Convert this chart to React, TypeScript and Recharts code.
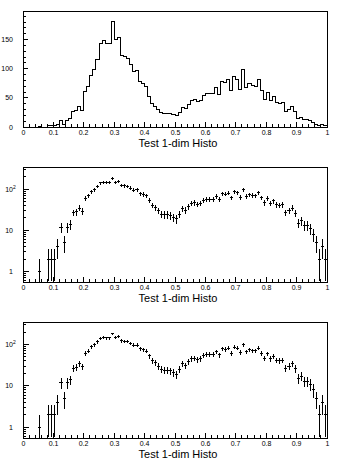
import { ComposedChart, ScatterChart, Line, Scatter, ErrorBar, XAxis, YAxis, ReferenceArea } from 'recharts'

// bin contents, 100 bins from 0 to 1
const counts = [
  0, 0, 0, 0, 0, 1, 0, 0, 2, 2,
  2, 4, 12, 5, 12, 14, 27, 28, 35, 29,
  61, 69, 88, 98, 116, 143, 148, 144, 144, 181,
  150, 154, 122, 121, 118, 107, 96, 97, 78, 75,
  69, 53, 41, 36, 30, 25, 24, 24, 23, 21,
  19, 25, 34, 31, 38, 45, 47, 43, 45, 54,
  58, 58, 57, 67, 56, 78, 76, 81, 62, 87,
  82, 64, 98, 67, 74, 71, 70, 82, 62, 47,
  60, 45, 52, 42, 41, 42, 27, 30, 35, 26,
  15, 17, 13, 13, 11, 8, 5, 2, 4, 2,
]
const binWidth = 0.01

const xMajorTicks = [0, 0.1, 0.2, 0.3, 0.4, 0.5, 0.6, 0.7, 0.8, 0.9, 1]
const xMajorLabels = ['0', '0.1', '0.2', '0.3', '0.4', '0.5', '0.6', '0.7', '0.8', '0.9', '1']
const xTicks = Array.from({ length: 51 }, (_, i) => i / 50)

const linMax = 199
const linTicks = [0, 10, 20, 30, 40, 50, 60, 70, 80, 90, 100, 110, 120, 130, 140, 150, 160, 170, 180, 190]
const linLabelled = [0, 50, 100, 150]

const logMin = 0.55
const logMax = 350
const logTicks = [0.6, 0.7, 0.8, 0.9, 1, 2, 3, 4, 5, 6, 7, 8, 9, 10, 20, 30, 40, 50, 60, 70, 80, 90, 100, 200, 300]
const logMajor = [1, 10, 100]

const title = 'Test 1-dim Histo'

const histData = [
  ...counts.map((c, i) => ({ x: i * binWidth, count: c })),
  { x: 1, count: counts[counts.length - 1] },
]

const pointData = counts
  .map((c, i) => ({
    x: (i + 0.5) * binWidth,
    y: c,
    ex: binWidth / 2,
    ey: [Math.min(Math.sqrt(c), c - logMin), Math.sqrt(c)],
  }))
  .filter((d) => d.y > 0)

const font = { fontFamily: '"Liberation Sans", Arial, sans-serif', fill: '#000' }
const snap = (v: number) => Math.round(v - 0.5) + 0.5

function xTick(props: any) {
  const { x, y, payload } = props
  const i = xMajorTicks.findIndex((t) => Math.abs(t - payload.value) < 1e-6)
  const px = snap(x)
  return (
    <g>
      <line x1={px} x2={px} y1={y} y2={y - (i >= 0 ? 5 : 3)} stroke='#000' />
      {i >= 0 && (
        <text x={px} y={y + 8} textAnchor='middle' fontSize={7} {...font}>
          {xMajorLabels[i]}
        </text>
      )}
    </g>
  )
}

function linTick(props: any) {
  const { x, y, payload } = props
  const v = payload.value
  const major = v % 50 === 0
  const py = snap(y)
  return (
    <g>
      <line x1={x} x2={x + (major ? 5 : 3)} y1={py} y2={py} stroke='#000' />
      {linLabelled.includes(v) && (
        <text x={x - 10} y={py + 2.5} textAnchor='end' fontSize={7} {...font}>
          {String(v)}
        </text>
      )}
    </g>
  )
}

function logTick(props: any) {
  const { x, y, payload } = props
  const v = payload.value
  const major = logMajor.includes(v)
  const py = snap(y)
  return (
    <g>
      <line x1={x} x2={x + (major ? 6 : 3)} y1={py} y2={py} stroke='#000' />
      {v === 100 ? (
        <text x={x - 17.8} y={py + 2.5} fontSize={7} {...font}>
          10
          <tspan dy={-3} fontSize={5}>
            2
          </tspan>
        </text>
      ) : major ? (
        <text x={x - 10} y={py + 2.5} textAnchor='end' fontSize={7} {...font}>
          {String(v)}
        </text>
      ) : null}
    </g>
  )
}

const titleLabel = {
  content: (p: any) => (
    <text
      x={p.viewBox.x + p.viewBox.width / 2 + 3}
      y={p.viewBox.y + 20}
      textAnchor='middle'
      fontSize={11}
      {...font}
    >
      {title}
    </text>
  ),
}

const frame = (p: any) => (
  <rect x={p.x} y={p.y} width={p.width} height={p.height} fill='none' stroke='#000' />
)

function LogPanel({ top, height, axisHeight }: { top: number; height: number; axisHeight: number }) {
  return (
    <ScatterChart width={352} height={height} margin={{ top, right: 25, bottom: 0, left: 0 }}>
      <XAxis
        type='number'
        dataKey='x'
        domain={[0, 1]}
        ticks={xTicks}
        interval={0}
        height={axisHeight}
        tickSize={0}
        tickMargin={0}
        axisLine={false}
        tickLine={false}
        tick={xTick}
        label={titleLabel}
      />
      <YAxis
        type='number'
        dataKey='y'
        scale='log'
        domain={[logMin, logMax]}
        allowDataOverflow
        ticks={logTicks}
        interval={0}
        width={23}
        tickSize={0}
        tickMargin={0}
        axisLine={false}
        tickLine={false}
        tick={logTick}
      />
      <ReferenceArea x1={0} x2={1} y1={logMin} y2={logMax} shape={frame} />
      <Scatter data={pointData} shape={() => <g />} isAnimationActive={false}>
        <ErrorBar dataKey='ex' direction='x' width={0} stroke='#000' strokeWidth={1} isAnimationActive={false} />
        <ErrorBar dataKey='ey' direction='y' width={0} stroke='#000' strokeWidth={1} isAnimationActive={false} />
      </Scatter>
    </ScatterChart>
  )
}

export default function App() {
  return (
    <div className='hb' style={{ position: 'absolute', left: 0, top: 0, width: 352, height: 470, background: '#fff' }}>
      <style>{'.hb svg path, .hb svg line, .hb svg rect { shape-rendering: crispEdges; }'}</style>
      <div style={{ position: 'absolute', left: 0, top: 0 }}>
        <ComposedChart width={352} height={155} data={histData} margin={{ top: 11, right: 25, bottom: 0, left: 0 }}>
          <XAxis
            type='number'
            dataKey='x'
            domain={[0, 1]}
            ticks={xTicks}
            interval={0}
            height={28}
            tickSize={0}
            tickMargin={0}
            axisLine={false}
            tickLine={false}
            tick={xTick}
            label={titleLabel}
          />
          <YAxis
            type='number'
            domain={[0, linMax]}
            ticks={linTicks}
            interval={0}
            width={23}
            tickSize={0}
            tickMargin={0}
            axisLine={false}
            tickLine={false}
            tick={linTick}
          />
          <ReferenceArea x1={0} x2={1} y1={0} y2={linMax} shape={frame} />
          <Line
            type='stepAfter'
            dataKey='count'
            stroke='#000'
            strokeWidth={1}
            dot={false}
            isAnimationActive={false}
          />
        </ComposedChart>
      </div>
      <div style={{ position: 'absolute', left: 0, top: 155 }}>
        <LogPanel top={12} height={155} axisHeight={28} />
      </div>
      <div style={{ position: 'absolute', left: 0, top: 310 }}>
        <LogPanel top={12} height={160} axisHeight={32} />
      </div>
    </div>
  )
}
